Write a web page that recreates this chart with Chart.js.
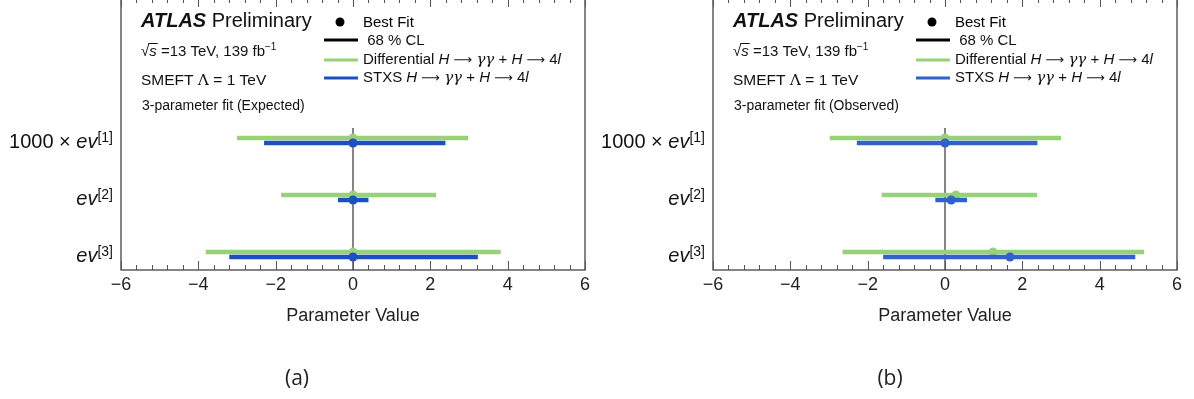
<!DOCTYPE html>
<html>
<head>
<meta charset="utf-8">
<script src="https://cdn.jsdelivr.net/npm/chart.js@4.4.0/dist/chart.umd.min.js"></script>
<style>
body { margin:0; background:#fff; width:1194px; height:399px; overflow:hidden; position:relative; }
.panel { position:absolute; top:-2px; width:597px; height:401px; }
#p1 { left:0; }
#p2 { left:592px; }
.tag { position:absolute; top:363px; width:80px; text-align:center; font-family:'Open Sans','Noto Sans',sans-serif; font-size:21px; color:#222; }
</style>
</head>
<body>
<div class="panel" id="p1"><canvas id="c1" width="597" height="401"></canvas></div>
<div class="panel" id="p2"><canvas id="c2" width="597" height="401"></canvas></div>
<div class="tag" style="left:257px;">(a)</div>
<div class="tag" style="left:850px;">(b)</div>
<script>
// parameters, top to bottom
var labelPrefix = ['1000 \u00d7 ', '', ''];
var labelSup = ['[1]', '[2]', '[3]'];
var rowPos = [3, 2, 1];

// expected fit (a)
var diffExpBest = [0, 0, 0];
var diffExpLo = [-3.0, -1.86, -3.81];
var diffExpHi = [2.98, 2.15, 3.82];
var stxsExpBest = [0, 0, 0];
var stxsExpLo = [-2.3, -0.39, -3.2];
var stxsExpHi = [2.39, 0.40, 3.23];

// observed fit (b)
var diffObsBest = [0, 0.28, 1.24];
var diffObsLo = [-2.98, -1.64, -2.65];
var diffObsHi = [3.0, 2.38, 5.15];
var stxsObsBest = [0, 0.16, 1.68];
var stxsObsLo = [-2.28, -0.25, -1.6];
var stxsObsHi = [2.39, 0.57, 4.92];

var xTicks = [-6, -4, -2, 0, 2, 4, 6];

var FONT = "'Liberation Sans', Arial, sans-serif";
var GREEN = '#97d279';
var yMin = 0.728, yMax = 5.5, zeroTop = 3.22;

function f(size, style, fam) { return (style ? style + ' ' : '') + size + 'px ' + (fam || FONT); }

// draws pieces of text one after another, returns end x
function drawParts(ctx, x, y, parts) {
    for (var i = 0; i < parts.length; i++) {
        var p = parts[i];
        ctx.font = p[1];
        ctx.fillText(p[0], x, y - (p[2] || 0));
        x += ctx.measureText(p[0]).width;
    }
    return x;
}
function partsWidth(ctx, parts) {
    var w = 0;
    for (var i = 0; i < parts.length; i++) { ctx.font = parts[i][1]; w += ctx.measureText(parts[i][0]).width; }
    return w;
}

function decayParts(txt) {
    var arrow = f(13, '', "'DejaVu Sans', sans-serif");
    return [[txt, f(15)], ['H', f(15, 'italic')], [' ', f(15)], ['\u27f6', arrow], [' ', f(15)],
            ['\u03b3\u03b3', f(15, 'italic', "'DejaVu Serif', serif")],
            [' + ', f(15)], ['H', f(15, 'italic')], [' ', f(15)], ['\u27f6', arrow], [' 4', f(15)], ['l', f(15, 'italic')]];
}

function makeChart(id, fitText, diffBest, diffLo, diffHi, stxsBest, stxsLo, stxsHi, blue) {
    var datasets = [];
    datasets.push({ data: [{x: 0, y: zeroTop}, {x: 0, y: yMin}], showLine: true, borderColor: '#444',
                    borderWidth: 1.3, pointRadius: 0, order: 9 });
    var series = [
        {best: diffBest, lo: diffLo, hi: diffHi, color: GREEN, dy: 0.044, order: 7},
        {best: stxsBest, lo: stxsLo, hi: stxsHi, color: blue, dy: -0.044, order: 5}
    ];
    series.forEach(function (s) {
        var dots = [];
        for (var i = 0; i < rowPos.length; i++) {
            var y = rowPos[i] + s.dy;
            datasets.push({ data: [{x: s.lo[i], y: y}, {x: s.hi[i], y: y}], showLine: true, borderColor: s.color,
                            borderWidth: 4.5, borderCapStyle: 'butt', pointRadius: 0, order: s.order });
            dots.push({x: s.best[i], y: y});
        }
        datasets.push({ data: dots, pointRadius: 4.5, pointBorderWidth: 0, pointBackgroundColor: s.color,
                        backgroundColor: s.color, order: s.order - 1 });
    });

    var decor = {
        id: 'decor',
        afterDraw: function (chart) {
            var ctx = chart.ctx, a = chart.chartArea;
            var xs = chart.scales.x, ys = chart.scales.y;
            ctx.save();
            // frame and inward ticks
            ctx.strokeStyle = '#333';
            ctx.lineWidth = 1.2;
            ctx.strokeRect(a.left, a.top, a.right - a.left, a.bottom - a.top);
            ctx.lineWidth = 1;
            ctx.strokeStyle = '#555';
            for (var i = 0; i <= 30; i++) {
                var px = Math.round(xs.getPixelForValue(-6 + 0.4 * i)) + 0.5;
                var len = (i % 5 == 0) ? 9 : 5;
                ctx.beginPath();
                ctx.moveTo(px, a.bottom); ctx.lineTo(px, a.bottom - len);
                ctx.moveTo(px, a.top); ctx.lineTo(px, a.top + len);
                ctx.stroke();
            }
            // parameter labels
            ctx.fillStyle = '#111';
            ctx.textBaseline = 'alphabetic';
            ctx.textAlign = 'left';
            for (var r = 0; r < rowPos.length; r++) {
                var parts = [[labelPrefix[r], f(20)], ['ev', f(20, 'italic')], [labelSup[r], f(14), 6]];
                var w = partsWidth(ctx, parts);
                drawParts(ctx, 113 - w, ys.getPixelForValue(rowPos[r]) + 8, parts);
            }
            // ATLAS block
            drawParts(ctx, 141, 29, [['ATLAS', f(20, 'italic bold')], [' Preliminary', f(20)]]);
            var x = drawParts(ctx, 141, 58, [['\u221a', f(15)]]);
            ctx.font = f(15, 'italic');
            var sw = ctx.measureText('s').width;
            ctx.fillText('s', x, 58);
            ctx.beginPath(); ctx.lineWidth = 1; ctx.strokeStyle = '#111';
            ctx.moveTo(x - 1, 45.5); ctx.lineTo(x + sw + 1, 45.5); ctx.stroke();
            drawParts(ctx, x + sw, 58, [[' =13 TeV, 139 fb', f(15)], ['\u22121', f(10), 6]]);
            drawParts(ctx, 141, 87, [['SMEFT ', f(15.5)], ['\u039b', f(15.5, '', "'DejaVu Serif', serif")], [' = 1 TeV', f(15.5)]]);
            drawParts(ctx, 142, 112, [[fitText, f(14)]]);
            // legend
            ctx.fillStyle = '#000';
            ctx.beginPath(); ctx.arc(340, 24, 4.5, 0, 2 * Math.PI); ctx.fill();
            drawParts(ctx, 363, 29, [['Best Fit', f(15)]]);
            var legLines = [['#000', 42], [GREEN, 62], [blue, 80]];
            legLines.forEach(function (l) {
                ctx.strokeStyle = l[0]; ctx.lineWidth = 3;
                ctx.beginPath(); ctx.moveTo(324, l[1]); ctx.lineTo(358, l[1]); ctx.stroke();
            });
            ctx.fillStyle = '#111';
            drawParts(ctx, 363, 47, [[' 68 % CL', f(15)]]);
            drawParts(ctx, 363, 66, decayParts('Differential '));
            drawParts(ctx, 363, 84, decayParts('STXS '));
            ctx.restore();
        }
    };

    return new Chart(document.getElementById(id), {
        type: 'scatter',
        data: { datasets: datasets },
        options: {
            responsive: false,
            animation: false,
            layout: { padding: { left: 121, right: 12, top: 0, bottom: 0 }, autoPadding: false },
            plugins: { legend: { display: false }, tooltip: { enabled: false } },
            scales: {
                x: {
                    type: 'linear', min: -6, max: 6,
                    afterBuildTicks: function (s) { s.ticks = xTicks.map(function (v) { return {value: v}; }); },
                    afterFit: function (s) { s.height = 129; },
                    grid: { display: false, drawTicks: false },
                    border: { display: false },
                    ticks: {
                        padding: 4, color: '#222', maxRotation: 0,
                        font: { family: FONT, size: 18 },
                        callback: function (v) { return v < 0 ? '\u2212' + Math.abs(v) : String(v); }
                    },
                    title: { display: true, text: 'Parameter Value', color: '#222',
                             font: { family: FONT, size: 18 }, padding: { top: 0, bottom: 72 } }
                },
                y: { type: 'linear', min: yMin, max: yMax, display: false }
            }
        },
        plugins: [decor]
    });
}

makeChart('c1', '3-parameter fit (Expected)', diffExpBest, diffExpLo, diffExpHi, stxsExpBest, stxsExpLo, stxsExpHi, '#1b50c3');
makeChart('c2', '3-parameter fit (Observed)', diffObsBest, diffObsLo, diffObsHi, stxsObsBest, stxsObsLo, stxsObsHi, '#2f63c9');
</script>
</body>
</html>
